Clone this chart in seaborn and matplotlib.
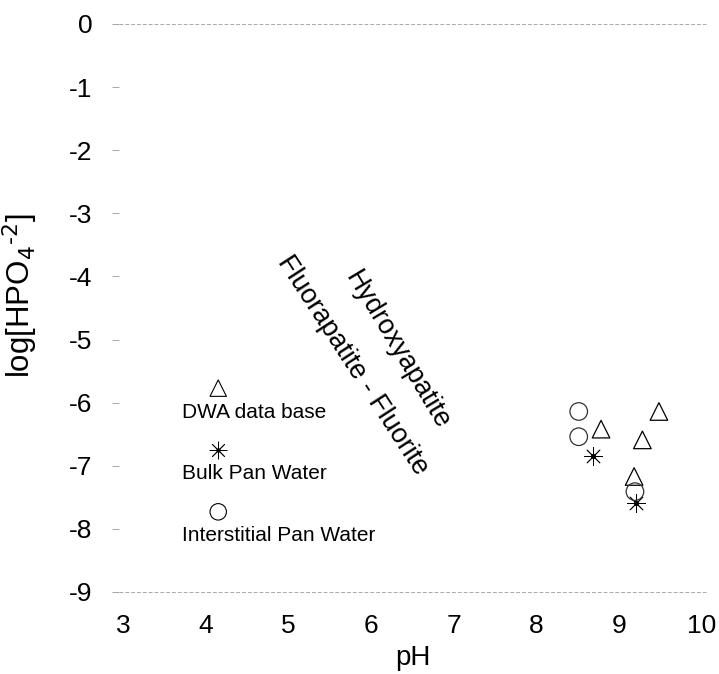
import matplotlib
matplotlib.use("Agg")
import matplotlib.pyplot as plt
import seaborn as sns
import pandas as pd

# Data
dwa_ph = [8.78, 9.48, 9.28, 9.18]
dwa_log = [-6.42, -6.14, -6.59, -7.17]
bulk_ph = [8.68, 9.20]
bulk_log = [-6.85, -7.59]
inter_ph = [8.51, 8.51, 9.19]
inter_log = [-6.14, -6.54, -7.41]

legend_labels = ["DWA data base", "Bulk Pan Water", "Interstitial Pan Water"]
legend_ph = [4.15, 4.15, 4.15]
legend_log = [-5.77, -6.75, -7.73]
legend_text_log = [-6.15, -7.12, -8.10]

region_labels = ["Hydroxyapatite", "Fluorapatite - Fluorite"]
region_ph = [6.31, 5.77]
region_log = [-5.17, -5.40]
region_rot = [-59, -57]

xticks = [3, 4, 5, 6, 7, 8, 9, 10]
yticks = [0, -1, -2, -3, -4, -5, -6, -7, -8, -9]

sns.set_theme(style="white")
plt.rcParams['font.family'] = ['Liberation Sans', 'DejaVu Sans']
plt.rcParams['text.color'] = 'black'
plt.rcParams['axes.labelcolor'] = 'black'
plt.rcParams['xtick.color'] = 'black'
plt.rcParams['ytick.color'] = 'black'

fig = plt.figure(figsize=(7.19, 6.74), dpi=100)
ax = fig.add_axes([0.1655, 0.1217, 0.8165, 0.8427])

df_dwa = pd.DataFrame({"pH": dwa_ph, "log": dwa_log})
df_bulk = pd.DataFrame({"pH": bulk_ph, "log": bulk_log})
df_int = pd.DataFrame({"pH": inter_ph, "log": inter_log})

sns.scatterplot(data=df_dwa, x="pH", y="log", marker="^", s=160,
                facecolors="none", edgecolor="black", linewidth=0.9, ax=ax)
sns.scatterplot(data=df_bulk, x="pH", y="log", marker=(8, 2, 0), s=170,
                color="black", linewidth=0.6, ax=ax)
sns.scatterplot(data=df_bulk, x="pH", y="log", marker="o", s=14,
                color="black", linewidth=0, ax=ax)
sns.scatterplot(data=df_int, x="pH", y="log", marker="o", s=160,
                facecolors="none", edgecolor="#333333", linewidth=0.9, ax=ax)

# hand-made legend inside plot
leg_markers = ["^", (8, 2, 0), "o"]
for i, (lab, px, py, ty) in enumerate(zip(legend_labels, legend_ph, legend_log, legend_text_log)):
    if i == 1:
        sns.scatterplot(x=[px], y=[py], marker=leg_markers[i], s=150, color="black",
                        linewidth=0.6, ax=ax)
        sns.scatterplot(x=[px], y=[py], marker="o", s=10, color="black", linewidth=0, ax=ax)
    else:
        sns.scatterplot(x=[px], y=[py], marker=leg_markers[i], s=140, facecolors="none",
                        edgecolor="black", linewidth=0.8, ax=ax)
    ax.text(3.71, ty, lab, fontsize=15, ha="left", va="center", color="black")

for lab, px, py, rot in zip(region_labels, region_ph, region_log, region_rot):
    ax.text(px, py, lab, fontsize=19.4, rotation=rot, rotation_mode="anchor",
            ha="center", va="center", color="black")

ax.axhline(0, color="#aaaaaa", lw=0.7, ls=(0, (4, 2)), clip_on=False)
ax.axhline(-9, color="#aaaaaa", lw=0.7, ls=(0, (4, 2)), clip_on=False)

ax.set_xlim(2.95, 10.05)
ax.set_ylim(-9, 0)
ax.set_xticks(xticks)
ax.set_yticks(yticks)
ax.set_xticklabels([str(t) for t in xticks])
ax.set_yticklabels([str(t) for t in yticks])
for s in ax.spines.values():
    s.set_visible(False)
ax.tick_params(axis="y", left=True, length=5, width=0.6, color="#999999",
               labelcolor="black", pad=14, labelsize=19)
ax.tick_params(axis="x", bottom=False, pad=10, labelsize=19, labelcolor="black")

ax.set_xlabel("pH", fontsize=20, color="black")
ax.set_ylabel(r"log[HPO$_{4}$$^{\text{-}2}$]", fontsize=22.5, color="black")
ax.xaxis.set_label_coords(0.5, -0.093)
ax.yaxis.set_label_coords(-0.134, 0.521)
ax.grid(False)

fig.savefig("out.png", dpi=100)
